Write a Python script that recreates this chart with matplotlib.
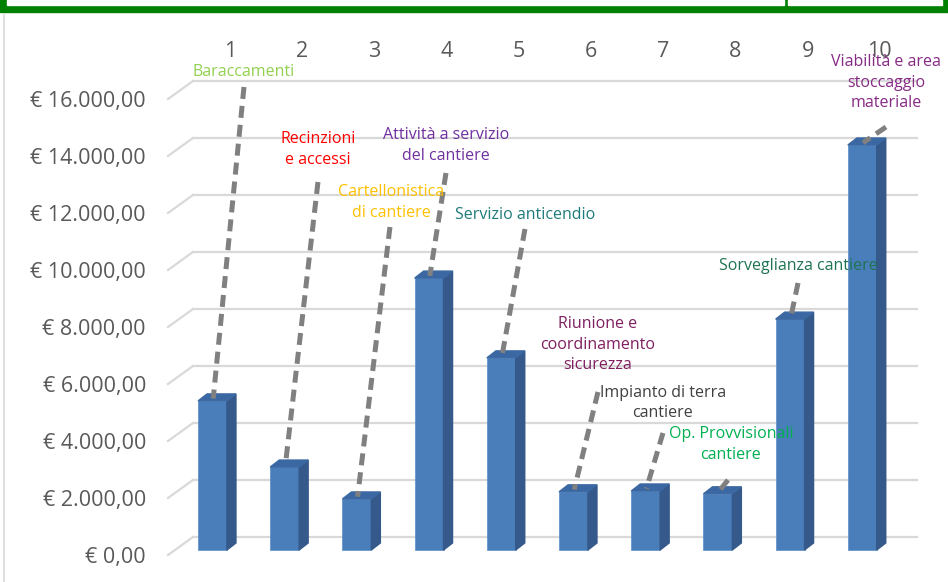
import matplotlib.pyplot as plt
from matplotlib.patches import Rectangle, Polygon
import numpy as np

plt.rcParams['font.family'] = ['Open Sans', 'DejaVu Sans']

# data (euro per item)
categories = [1, 2, 3, 4, 5, 6, 7, 8, 9, 10]
values = [5230, 2910, 1790, 9540, 6740, 2040, 2070, 1970, 8100, 14210]
yticks = [0, 2000, 4000, 6000, 8000, 10000, 12000, 14000, 16000]
ytick_labels = ['€ 0,00', '€ 2.000,00', '€ 4.000,00', '€ 6.000,00', '€ 8.000,00',
                '€ 10.000,00', '€ 12.000,00', '€ 14.000,00', '€ 16.000,00']
labels = ['Baraccamenti', 'Recinzioni\ne accessi', 'Cartellonistica\ndi cantiere',
          'Attività a servizio\ndel cantiere', 'Servizio anticendio',
          'Riunione e\ncoordinamento\nsicurezza', 'Impianto di terra\ncantiere',
          'Op. Provvisionali\ncantiere', 'Sorveglianza cantiere',
          'Viabilità e area\nstoccaggio\nmateriale']
label_colors = ['#92D050', '#FF0000', '#FFC000', '#7030A0', '#1E7B7B',
                '#7F1F5F', '#404040', '#00B050', '#1F7352', '#862A84']

# where the callouts sit (x in category units, y in euro)
text_pos = [(1.436, 16780), (2.461, 14050), (3.472, 12190), (4.234, 14190), (5.328, 11770),
            (6.339, 7210), (7.239, 5170), (8.181, 3700), (9.110, 9950), (10.328, 16400)]
line_start = [(1.436, 16246), (2.461, 12912), (3.458, 11333), (4.234, 13228), (5.328, 11263),
              (6.339, 5544), (7.239, 4105), (8.140, 2456), (9.110, 9368), (10.328, 14842)]

fig = plt.figure(figsize=(9.48, 5.82), dpi=100)
ax = fig.add_axes([0, 0, 1, 1])
ax.set_xlim(-1.943, 11.187)
ax.set_ylim(-1123, 19298)
ax.axis('off')

# fake 3d look
w = 0.40
dx, dy = 0.125, 246
gx_front, gx_back, gx_end = 0.384, 0.730, 10.756
gy_front, gy_back = -175, 456

for t, lab in zip(yticks, ytick_labels):
    ax.plot([gx_front, gx_back], [t + gy_front, t + gy_back], color='#D9D9D9', lw=1.6, zorder=1)
    ax.plot([gx_back, gx_end], [t + gy_back, t + gy_back], color='#D9D9D9', lw=1.6, zorder=1)
    ax.text(0.079, t + gy_front - 100, lab, ha='right', va='center', fontsize=15.5, color='#595959')

ax.bar(categories, values, width=w, color='#4A7EBB', edgecolor='#5A8CC8', lw=0.5, zorder=3)
for c, v in zip(categories, values):
    r = c + w / 2
    l = c - w / 2
    ax.add_patch(Polygon([(r, 0), (r + dx, dy), (r + dx, v + dy), (r, v)],
                         closed=True, color='#34598A', zorder=3))
    ax.add_patch(Polygon([(l, v), (r, v), (r + dx, v + dy), (l + dx, v + dy)],
                         closed=True, color='#3B68A2', zorder=3))
    ax.text(c + 0.242, 17480, str(c), ha='center', va='center', fontsize=15.5, color='#595959')

for i, (c, v) in enumerate(zip(categories, values)):
    x0, y0 = line_start[i]
    ax.plot([x0, c + 0.01], [y0, v + 80], color='#808080', lw=3.6,
            linestyle=(0, (2.4, 1.4)), solid_capstyle='butt', zorder=4)
    tx, ty = text_pos[i]
    ax.text(tx, ty, labels[i], ha='center', va='center', fontsize=11.5,
            color=label_colors[i], linespacing=1.35, zorder=5)

# green frame strip at the top and the light border on the left
fig.patches.append(Rectangle((0, 1 - 12 / 582), 1, 12 / 582, transform=fig.transFigure,
                             color='#008000', zorder=0))
fig.patches.append(Rectangle((7 / 948, 1 - 5 / 582), 777 / 948, 5 / 582, transform=fig.transFigure,
                             color='white', zorder=1))
fig.patches.append(Rectangle((788 / 948, 1 - 5 / 582), 154 / 948, 5 / 582, transform=fig.transFigure,
                             color='white', zorder=1))
fig.lines.append(plt.Line2D([4 / 948, 4 / 948], [0, 1 - 15 / 582], transform=fig.transFigure,
                            color='#D9D9D9', lw=1.2))

fig.savefig('out.png', dpi=100)
